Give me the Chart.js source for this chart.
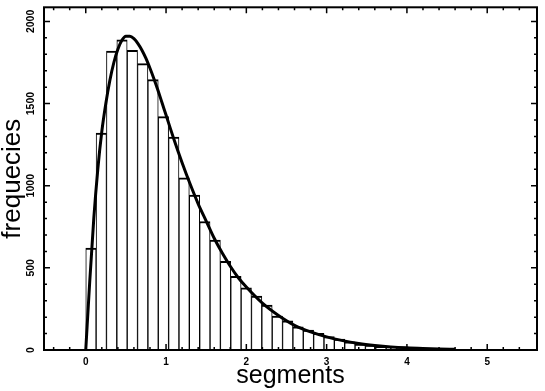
<!DOCTYPE html>
<html>
<head>
<meta charset="utf-8">
<script src="https://cdn.jsdelivr.net/npm/chart.js@4"></script>
<style>
  html, body { margin: 0; padding: 0; background: #fff; }
  #wrap { width: 545px; height: 391px; }
</style>
</head>
<body>
<div id="wrap"><canvas id="histChart" width="545" height="391"></canvas></div>
<script>
// histogram counts, one per bin starting at 0
const binWidth = 0.129;
const counts = [621, 1320, 1820, 1888, 1824, 1743, 1646, 1421, 1296, 1048,
                943, 782, 669, 540, 449, 379, 328, 274, 207, 177,
                141, 121, 101, 81, 66, 50, 36, 30, 20, 16,
                12, 9, 7, 5, 4, 3];

// fitted curve
const curveX = [0, 0.05, 0.1, 0.15, 0.2, 0.25, 0.3, 0.35, 0.4, 0.45, 0.5, 0.55,
                0.6, 0.65, 0.7, 0.75, 0.8, 0.85, 0.9, 0.95, 1.0, 1.1, 1.2, 1.3, 1.4,
                1.5, 1.6, 1.7, 1.8, 1.9, 2.0, 2.2, 2.4, 2.6, 2.8, 3.0, 3.2,
                3.4, 3.6, 3.8, 4.0, 4.2, 4.4, 4.6];
const curveY = [0, 420, 800, 1100, 1330, 1500, 1640, 1750, 1830, 1885, 1910, 1910,
                1895, 1865, 1825, 1775, 1715, 1650, 1580, 1505, 1430, 1280, 1140, 1010, 890,
                785, 680, 590, 510, 440, 383, 285, 210, 150, 110, 80, 57,
                40, 28, 19, 13, 9, 6, 4];

const xTicks = [0, 1, 2, 3, 4, 5];
const yTicks = [0, 500, 1000, 1500, 2000];

const barPoints = counts.map((c, i) => ({ x: (i + 0.5) * binWidth, y: c }));
const curvePoints = curveX.map((x, i) => ({ x: x, y: curveY[i] }));

// box round the plot with inward ticks on all four sides
const framePlugin = {
  id: 'frame',
  afterDatasetsDraw(chart) {
    const { ctx, chartArea: a, scales: { x, y } } = chart;
    ctx.save();
    ctx.strokeStyle = '#000';
    ctx.lineWidth = 1.5;
    ctx.beginPath();
    for (let v = -0.4; v <= 5.6; v += 0.2) {
      const r = Math.round(v * 10) / 10;
      const len = Math.abs(r - Math.round(r)) < 1e-6 ? 6 : 3;
      const px = x.getPixelForValue(r);
      ctx.moveTo(px, a.bottom); ctx.lineTo(px, a.bottom - len);
      ctx.moveTo(px, a.top); ctx.lineTo(px, a.top + len);
    }
    for (let v = 100; v <= 2000; v += 100) {
      const len = v % 500 === 0 ? 6 : 3;
      const py = y.getPixelForValue(v);
      ctx.moveTo(a.left, py); ctx.lineTo(a.left + len, py);
      ctx.moveTo(a.right, py); ctx.lineTo(a.right - len, py);
    }
    ctx.stroke();
    ctx.lineWidth = 2;
    ctx.strokeRect(a.left, a.top, a.right - a.left, a.bottom - a.top);
    ctx.restore();
  }
};

const ctx = document.getElementById('histChart').getContext('2d');
new Chart(ctx, {
  type: 'bar',
  data: {
    datasets: [
      {
        type: 'line',
        data: curvePoints,
        borderColor: '#000',
        borderWidth: 3,
        pointRadius: 0,
        cubicInterpolationMode: 'monotone',
        fill: false,
        order: 0
      },
      {
        data: barPoints,
        backgroundColor: '#fff',
        borderColor: '#000',
        borderWidth: { top: 2, left: 1, right: 1, bottom: 0 },
        borderSkipped: false,
        barPercentage: 1,
        categoryPercentage: 1,
        order: 1
      }
    ]
  },
  options: {
    responsive: false,
    animation: false,
    layout: { padding: { left: 0, right: 8, top: 5, bottom: 0 } },
    plugins: { legend: { display: false }, tooltip: { enabled: false } },
    scales: {
      x: {
        type: 'linear',
        min: -0.52,
        max: 5.62,
        offset: false,
        grid: { display: false, drawTicks: false },
        border: { display: false },
        afterBuildTicks: s => { s.ticks = xTicks.map(v => ({ value: v })); },
        afterFit: s => { s.height = 41; },
        ticks: {
          color: '#000',
          padding: 6,
          maxRotation: 0,
          font: { family: 'Liberation Sans', size: 10, weight: 'bold' }
        },
        title: {
          display: true,
          text: 'segments',
          color: '#000',
          padding: { top: -2, bottom: 0 },
          font: { family: 'Liberation Sans', size: 25 }
        }
      },
      y: {
        min: 0,
        max: 2086,
        grid: { display: false, drawTicks: false },
        border: { display: false },
        afterBuildTicks: s => { s.ticks = yTicks.map(v => ({ value: v })); },
        afterFit: s => { s.width = 44; },
        ticks: {
          color: '#000',
          padding: 1,
          minRotation: 90,
          maxRotation: 90,
          crossAlign: 'center',
          callback: v => String(v),
          font: { family: 'Liberation Sans', size: 10.5, weight: 'bold' }
        },
        title: {
          display: true,
          text: 'frequecies',
          color: '#000',
          padding: { top: -3, bottom: 0 },
          font: { family: 'Liberation Sans', size: 26 }
        }
      }
    }
  },
  plugins: [framePlugin]
});
</script>
</body>
</html>
